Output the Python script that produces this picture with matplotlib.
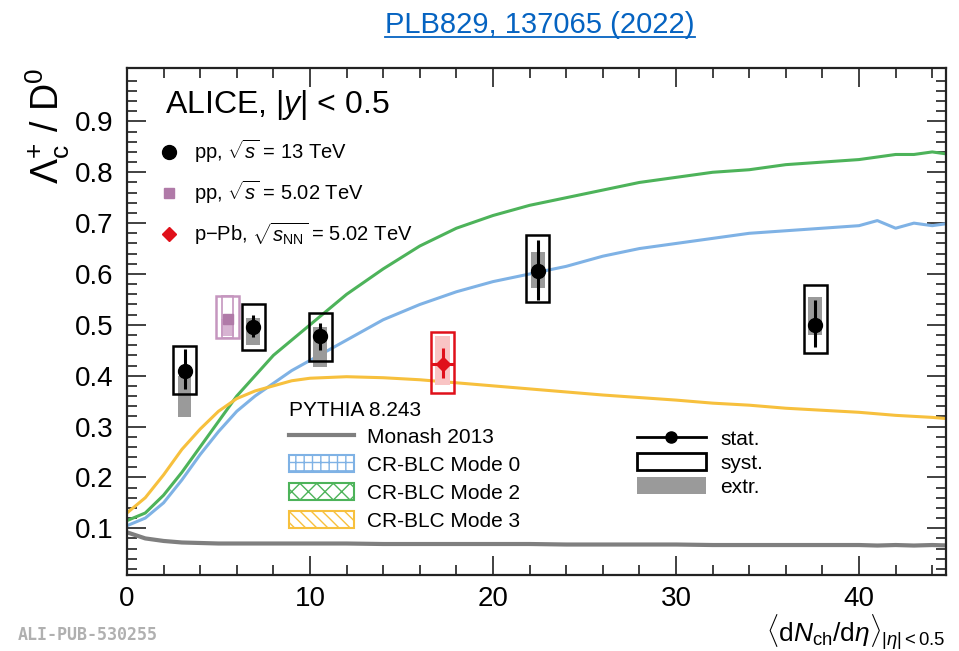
import numpy as np
import matplotlib
matplotlib.use('Agg')
import matplotlib.pyplot as plt
from matplotlib.patches import Rectangle, Patch
from matplotlib.lines import Line2D

plt.rcParams['font.family'] = ['Liberation Sans', 'DejaVu Sans']
plt.rcParams['mathtext.fontset'] = 'custom'
plt.rcParams['mathtext.rm'] = 'Liberation Sans'
plt.rcParams['mathtext.it'] = 'Liberation Sans:italic'
plt.rcParams['mathtext.bf'] = 'Liberation Sans:bold'
plt.rcParams['hatch.linewidth'] = 1.0

# PYTHIA 8.243 curves
x_model = [0, 1, 2, 3, 4, 5, 6, 7, 8, 9, 10, 12, 14, 16, 18, 20, 22, 24, 26, 28,
           30, 32, 34, 36, 38, 40, 41, 42, 43, 44, 45]
monash = [0.092, 0.080, 0.075, 0.072, 0.071, 0.070, 0.070, 0.070, 0.070, 0.070, 0.070,
          0.070, 0.069, 0.069, 0.069, 0.069, 0.069, 0.068, 0.068, 0.068, 0.068, 0.067,
          0.067, 0.067, 0.067, 0.067, 0.066, 0.067, 0.066, 0.067, 0.066]
mode0 = [0.105, 0.12, 0.15, 0.195, 0.245, 0.29, 0.33, 0.36, 0.385, 0.41, 0.43, 0.47,
         0.51, 0.54, 0.565, 0.585, 0.60, 0.615, 0.635, 0.65, 0.66, 0.67, 0.68, 0.685,
         0.69, 0.695, 0.705, 0.69, 0.70, 0.695, 0.70]
mode2 = [0.115, 0.13, 0.165, 0.21, 0.26, 0.31, 0.36, 0.40, 0.44, 0.47, 0.50, 0.56,
         0.61, 0.655, 0.69, 0.715, 0.735, 0.75, 0.765, 0.78, 0.79, 0.80, 0.805, 0.815,
         0.82, 0.825, 0.83, 0.835, 0.835, 0.84, 0.835]
mode3 = [0.13, 0.16, 0.205, 0.255, 0.295, 0.33, 0.355, 0.37, 0.38, 0.39, 0.395, 0.398,
         0.396, 0.392, 0.386, 0.38, 0.374, 0.368, 0.362, 0.357, 0.352, 0.346, 0.342,
         0.336, 0.332, 0.328, 0.325, 0.322, 0.32, 0.318, 0.315]

# pp 13 TeV
pp13_x = [3.15, 6.9, 10.55, 22.45, 37.6]
pp13_y = [0.410, 0.495, 0.478, 0.605, 0.500]
pp13_stat_lo = [0.374, 0.476, 0.451, 0.549, 0.457]
pp13_stat_hi = [0.453, 0.520, 0.504, 0.667, 0.549]
pp13_syst_lo = [0.364, 0.451, 0.429, 0.545, 0.445]
pp13_syst_hi = [0.459, 0.541, 0.524, 0.677, 0.579]
pp13_extr_lo = [0.319, 0.460, 0.417, 0.573, 0.480]
pp13_extr_hi = [0.400, 0.514, 0.496, 0.644, 0.555]

# pp 5.02 TeV
pp5_x = [5.5]
pp5_y = [0.512]
pp5_syst_lo = [0.474]
pp5_syst_hi = [0.557]
pp5_extr_lo = [0.478]
pp5_extr_hi = [0.512]

# p-Pb 5.02 TeV
ppb_x = [17.25]
ppb_y = [0.423]
ppb_stat_lo = [0.396]
ppb_stat_hi = [0.455]
ppb_syst_lo = [0.366]
ppb_syst_hi = [0.486]
ppb_extr_lo = [0.382]
ppb_extr_hi = [0.478]

c_mon = '#7f7f7f'
c_m0 = '#7fb2e5'
c_m2 = '#4db35a'
c_m3 = '#f7c03d'
c_purple = '#b07aa8'
c_red = '#e0101a'

fig = plt.figure(figsize=(9.59, 6.51), dpi=100)
ax = fig.add_axes([0.1324, 0.1167, 0.854, 0.7788])

ax.plot(x_model, monash, color=c_mon, lw=3, zorder=2)
ax.plot(x_model, mode0, color=c_m0, lw=2.2, zorder=2)
ax.plot(x_model, mode2, color=c_m2, lw=2.2, zorder=2)
ax.plot(x_model, mode3, color=c_m3, lw=2.2, zorder=2)

hw = 0.63
# extrapolation bands
ax.bar(pp13_x, np.subtract(pp13_extr_hi, pp13_extr_lo), bottom=pp13_extr_lo,
       width=0.75, color='#9a9a9a', zorder=3)
ax.bar(pp5_x, np.subtract(pp5_extr_hi, pp5_extr_lo), bottom=pp5_extr_lo,
       width=0.75, color='#d7b4d2', zorder=3)
ax.bar(ppb_x, np.subtract(ppb_extr_hi, ppb_extr_lo), bottom=ppb_extr_lo,
       width=0.8, color='#f9c4c4', zorder=3)

# systematic boxes
for xv, lo, hi in zip(pp13_x, pp13_syst_lo, pp13_syst_hi):
    ax.add_patch(Rectangle((xv - hw, lo), 2 * hw, hi - lo, fill=False,
                           edgecolor='black', lw=1.8, zorder=4))
for xv, lo, hi in zip(pp5_x, pp5_syst_lo, pp5_syst_hi):
    ax.add_patch(Rectangle((xv - hw, lo), 2 * hw, hi - lo, fill=False,
                           edgecolor='#c596bf', lw=1.8, zorder=4))
    ax.add_patch(Rectangle((xv - 0.3, lo), 0.6, hi - lo, fill=False,
                           edgecolor='#c596bf', lw=1.2, zorder=4))
for xv, lo, hi in zip(ppb_x, ppb_syst_lo, ppb_syst_hi):
    ax.add_patch(Rectangle((xv - hw, lo), 2 * hw, hi - lo, fill=False,
                           edgecolor=c_red, lw=1.8, zorder=4))

# stat errors and markers
ax.errorbar(pp13_x, pp13_y,
            yerr=[np.subtract(pp13_y, pp13_stat_lo), np.subtract(pp13_stat_hi, pp13_y)],
            fmt='o', color='black', ms=10, elinewidth=2.2, capsize=0, zorder=5)
ax.plot(pp5_x, pp5_y, 's', color=c_purple, ms=7.5, zorder=5)
ax.errorbar(ppb_x, ppb_y,
            yerr=[np.subtract(ppb_y, ppb_stat_lo), np.subtract(ppb_stat_hi, ppb_y)],
            xerr=hw, fmt='D', color=c_red, ms=7, elinewidth=2.2, capsize=0, zorder=5)

ax.set_xlim(0, 44.75)
ax.set_ylim(0.008, 1.005)
ax.set_xticks(np.arange(0, 45, 10))
ax.set_xticks(np.arange(0, 45, 2), minor=True)
ax.set_yticks(np.arange(0.1, 0.95, 0.1))
ax.set_yticks(np.arange(0.02, 1.0, 0.02), minor=True)
ax.set_xticklabels(['0', '10', '20', '30', '40'])
ax.set_yticklabels(['0.1', '0.2', '0.3', '0.4', '0.5', '0.6', '0.7', '0.8', '0.9'])
ax.tick_params(which='both', direction='in', top=True, right=True, width=1.3,
               color='#333333', labelsize=20)
ax.tick_params(which='major', length=14)
ax.tick_params(which='minor', length=7)
ax.tick_params(axis='y', pad=10)
ax.tick_params(axis='x', pad=8)
for s in ax.spines.values():
    s.set_linewidth(1.6)
    s.set_color('#222222')

ax.set_ylabel(r'$\Lambda_{\mathrm{c}}^{+}$ / D$^{0}$', fontsize=27, loc='top', labelpad=2)
ax.set_xlabel(r'$\langle\mathrm{d}N_{\mathrm{ch}}/\mathrm{d}\eta\rangle_{|\eta|<0.5}$',
              fontsize=19, loc='right', labelpad=0)

ax.text(0.046, 0.927, r'ALICE, $|y|$ < 0.5', transform=ax.transAxes,
        fontsize=23, va='center', ha='left')

data_handles = [
    Line2D([], [], ls='none', marker='o', color='black', ms=10),
    Line2D([], [], ls='none', marker='s', color=c_purple, ms=7.5),
    Line2D([], [], ls='none', marker='D', color=c_red, ms=7),
]
data_labels = [r'pp, $\sqrt{s}$ = 13 TeV', r'pp, $\sqrt{s}$ = 5.02 TeV',
               r'p$-$Pb, $\sqrt{s_{\mathrm{NN}}}$ = 5.02 TeV']
leg1 = ax.legend(data_handles, data_labels, loc='upper left',
                 bbox_to_anchor=(0.015, 0.898), frameon=False, fontsize=14.5,
                 handlelength=1.2, handletextpad=0.6, labelspacing=0.7)
ax.add_artist(leg1)

model_handles = [
    Line2D([], [], color=c_mon, lw=3),
    Patch(facecolor='white', edgecolor=c_m0, hatch='++', lw=1.5),
    Patch(facecolor='white', edgecolor=c_m2, hatch='xx', lw=1.5),
    Patch(facecolor='white', edgecolor=c_m3, hatch='\\\\\\', lw=1.5),
]
model_labels = ['Monash 2013', 'CR-BLC Mode 0', 'CR-BLC Mode 2', 'CR-BLC Mode 3']
leg2 = ax.legend(model_handles, model_labels, loc='upper left',
                 bbox_to_anchor=(0.18, 0.373), frameon=False, fontsize=15,
                 title='PYTHIA 8.243', title_fontsize=15, alignment='left',
                 handlelength=3.1, handleheight=0.9, handletextpad=0.65,
                 labelspacing=0.38, borderpad=0.2)
ax.add_artist(leg2)

unc_handles = [
    Line2D([], [], color='black', lw=2, marker='o', ms=8),
    Patch(facecolor='white', edgecolor='black', lw=2),
    Patch(facecolor='#9a9a9a', edgecolor='none'),
]
leg3 = ax.legend(unc_handles, ['stat.', 'syst.', 'extr.'], loc='upper left',
                 bbox_to_anchor=(0.6, 0.325), frameon=False, fontsize=15,
                 handlelength=3.3, handleheight=0.9, handletextpad=0.7,
                 labelspacing=0.2)

t = fig.text(0.563, 0.962, 'PLB829, 137065 (2022)', color='#0563c1',
             fontsize=21, ha='center', va='center')
fig.canvas.draw()
bb = t.get_window_extent().transformed(fig.transFigure.inverted())
fig.add_artist(Line2D([bb.x0, bb.x1], [bb.y0 + 0.002, bb.y0 + 0.002],
                      color='#0563c1', lw=1.3, transform=fig.transFigure))

fig.text(0.018, 0.017, 'ALI-PUB-530255', family='DejaVu Sans Mono',
         weight='bold', color='#b0b0b0', fontsize=12)

fig.savefig('out.png', dpi=100)
